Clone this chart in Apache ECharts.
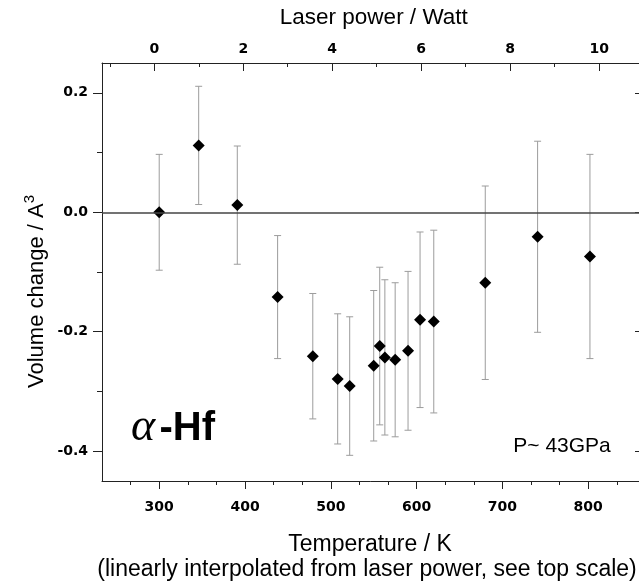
<!DOCTYPE html>
<html>
<head>
<meta charset="utf-8">
<script src="https://cdn.jsdelivr.net/npm/echarts@6/dist/echarts.min.js"></script>
<style>html,body{margin:0;padding:0;background:#fff;}#c{width:639px;height:586px;}</style>
</head>
<body>
<div id="c"></div>
<script>
// Data
const temperature = [300, 346, 391, 438, 479, 508, 522, 550, 557, 563, 575, 590, 604, 620, 680, 741, 802];
const volumeChange = [0.000, 0.112, 0.012, -0.142, -0.241, -0.279, -0.291, -0.257, -0.224, -0.243, -0.247, -0.232, -0.180, -0.183, -0.118, -0.041, -0.074];
const volumeError = [0.097, 0.099, 0.099, 0.103, 0.105, 0.109, 0.116, 0.126, 0.132, 0.130, 0.129, 0.133, 0.147, 0.153, 0.162, 0.160, 0.171];

// Tick values
const tempMajorTicks = [300, 400, 500, 600, 700, 800];
const tempMinorTicks = [266.667, 333.333, 366.667, 433.333, 466.667, 533.333, 566.667, 633.333, 666.667, 733.333, 766.667, 833.333];
const powerMajorTicks = [0, 2, 4, 6, 8, 10];
const powerMinorTicks = [-1, 1, 3, 5, 7, 9];
const volMajorTicks = [-0.4, -0.2, 0, 0.2];
const volMinorTicks = [-0.3, -0.1, 0.1];

const tempRange = [233.333, 861.5];
const powerRange = [-1.175, 10.94];
const volRange = [-0.45, 0.25];

const pointData = temperature.map((t, i) => [t, volumeChange[i]]);
const errData = temperature.map((t, i) => [t, volumeChange[i], volumeError[i]]);

const axisCol = '#222';
const tickFont = {fontFamily: 'DejaVu Sans', fontWeight: 'bold', fontSize: 14, color: '#000'};
const titleFont = 'Liberation Sans';

const chart = echarts.init(document.getElementById('c'), null, {renderer: 'canvas'});
chart.setOption({
  animation: false,
  backgroundColor: '#fff',
  grid: {left: 102, top: 63, width: 539, height: 418, containLabel: false, outerBoundsMode: 'none'},
  xAxis: [
    {type: 'value', position: 'bottom', min: tempRange[0], max: tempRange[1],
     axisLine: {show: true, onZero: false, lineStyle: {color: axisCol, width: 1}},
     axisTick: {show: true, inside: false, length: 8, customValues: tempMajorTicks, lineStyle: {color: axisCol}},
     axisLabel: Object.assign({show: true, margin: 19, customValues: tempMajorTicks}, tickFont),
     splitLine: {show: false}},
    {type: 'value', position: 'bottom', min: tempRange[0], max: tempRange[1],
     axisLine: {show: false, onZero: false},
     axisTick: {show: true, inside: false, length: 4, customValues: tempMinorTicks, lineStyle: {color: axisCol}},
     axisLabel: {show: false}, splitLine: {show: false}},
    {type: 'value', position: 'top', min: powerRange[0], max: powerRange[1],
     axisLine: {show: true, onZero: false, lineStyle: {color: axisCol, width: 1}},
     axisTick: {show: true, inside: true, length: 8, customValues: powerMajorTicks, lineStyle: {color: axisCol}},
     axisLabel: Object.assign({show: true, margin: 7, customValues: powerMajorTicks}, tickFont),
     splitLine: {show: false}},
    {type: 'value', position: 'top', min: powerRange[0], max: powerRange[1],
     axisLine: {show: false, onZero: false},
     axisTick: {show: true, inside: true, length: 4, customValues: powerMinorTicks, lineStyle: {color: axisCol}},
     axisLabel: {show: false}, splitLine: {show: false}}
  ],
  yAxis: [
    {type: 'value', position: 'left', min: volRange[0], max: volRange[1],
     axisLine: {show: true, onZero: false, lineStyle: {color: axisCol, width: 1}},
     axisTick: {show: true, inside: false, length: 9, customValues: volMajorTicks, lineStyle: {color: axisCol}},
     axisLabel: Object.assign({show: true, margin: 14, customValues: volMajorTicks, formatter: v => v.toFixed(1)}, tickFont),
     splitLine: {show: false}},
    {type: 'value', position: 'left', min: volRange[0], max: volRange[1],
     axisLine: {show: false, onZero: false},
     axisTick: {show: true, inside: false, length: 5, customValues: volMinorTicks, lineStyle: {color: axisCol}},
     axisLabel: {show: false}, splitLine: {show: false}},
    {type: 'value', position: 'right', min: volRange[0], max: volRange[1],
     axisLine: {show: true, onZero: false, lineStyle: {color: axisCol, width: 1}},
     axisTick: {show: true, inside: true, length: 6, customValues: volMajorTicks, lineStyle: {color: axisCol}},
     axisLabel: {show: false}, splitLine: {show: false}}
  ],
  series: [
    {
      type: 'custom', xAxisIndex: 0, yAxisIndex: 0, z: 2,
      data: errData,
      encode: {x: 0, y: 1},
      renderItem: function (params, api) {
        const x = api.value(0), y = api.value(1), e = api.value(2);
        const top = api.coord([x, y + e]);
        const bot = api.coord([x, y - e]);
        const w = 3.5;
        const st = {stroke: '#9c9c9c', lineWidth: 1};
        return {type: 'group', children: [
          {type: 'line', shape: {x1: top[0], y1: top[1], x2: bot[0], y2: bot[1]}, style: st},
          {type: 'line', shape: {x1: top[0] - w, y1: top[1], x2: top[0] + w, y2: top[1]}, style: st},
          {type: 'line', shape: {x1: bot[0] - w, y1: bot[1], x2: bot[0] + w, y2: bot[1]}, style: st}
        ]};
      },
      markLine: {
        silent: true, symbol: 'none', animation: false,
        label: {show: false},
        lineStyle: {color: '#444', width: 1.5, type: 'solid', opacity: 1},
        data: [{yAxis: 0}]
      }
    },
    {
      type: 'scatter', xAxisIndex: 0, yAxisIndex: 0, z: 3,
      symbol: 'diamond', symbolSize: 12,
      itemStyle: {color: '#000', opacity: 1},
      data: pointData
    }
  ],
  graphic: [
    {type: 'text', x: 373.8, y: 17.5, style: {text: 'Laser power / Watt', fontFamily: titleFont, fontSize: 22.5, fill: '#000', align: 'center', verticalAlign: 'middle'}},
    {type: 'text', x: 370, y: 545, style: {text: 'Temperature / K', fontFamily: titleFont, fontSize: 23, fill: '#000', align: 'center', verticalAlign: 'middle'}},
    {type: 'text', x: 367, y: 569.5, style: {text: '(linearly interpolated from laser power, see top scale)', fontFamily: titleFont, fontSize: 23, fill: '#000', align: 'center', verticalAlign: 'middle'}},
    {type: 'text', x: 35, y: 291.5, rotation: Math.PI / 2, style: {
      text: '{m|Volume change / A}{s|3}', align: 'center', verticalAlign: 'middle',
      rich: {
        m: {fontFamily: titleFont, fontSize: 22, fill: '#000', lineHeight: 26, verticalAlign: 'bottom'},
        s: {fontFamily: titleFont, fontSize: 15, fill: '#000', lineHeight: 26, verticalAlign: 'top'}
      }}},
    {type: 'text', x: 131, y: 428, style: {text: 'α', fontFamily: 'Liberation Serif', fontStyle: 'italic', fontSize: 46, fill: '#000', align: 'left', verticalAlign: 'middle'}},
    {type: 'text', x: 159.5, y: 429, style: {text: '-Hf', fontFamily: titleFont, fontWeight: 'bold', fontSize: 40, fill: '#000', align: 'left', verticalAlign: 'middle'}},
    {type: 'text', x: 513.3, y: 446.4, style: {text: 'P~ 43GPa', fontFamily: titleFont, fontSize: 21, fill: '#000', align: 'left', verticalAlign: 'middle'}}
  ]
});
</script>
</body>
</html>
